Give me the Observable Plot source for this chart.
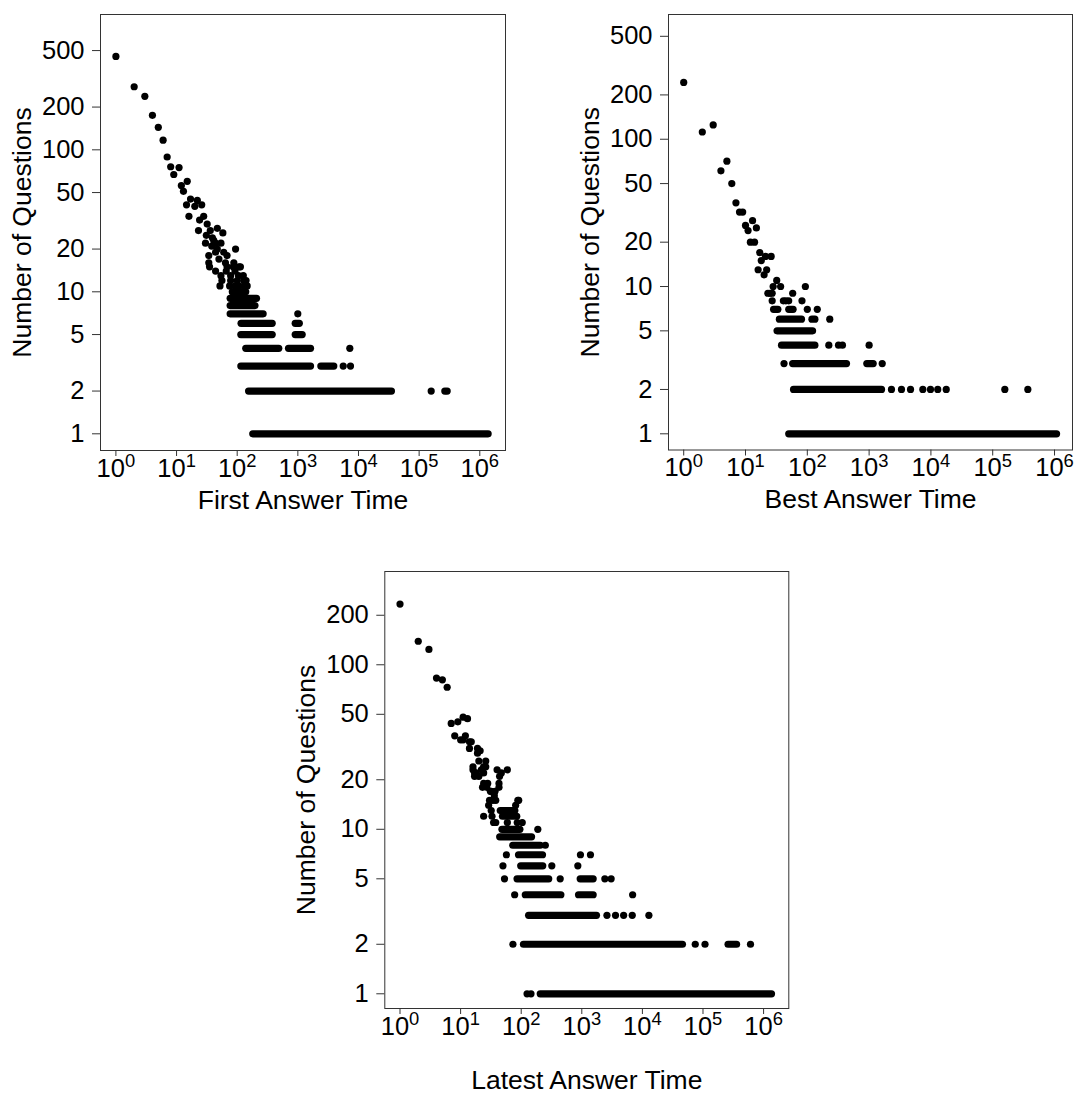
<!DOCTYPE html>
<html><head><meta charset="utf-8">
<script src="https://cdn.jsdelivr.net/npm/d3@7"></script>
<script src="https://cdn.jsdelivr.net/npm/@observablehq/plot@0.6"></script>
<style>
html,body{margin:0;padding:0;background:#fff;}
#chart{position:relative;width:1076px;height:1094px;font-family:"Liberation Sans",Arial,sans-serif;}
#chart svg{position:absolute;overflow:visible;}
</style></head><body><div id="chart"></div>
<script>
// ---------- data (x = answer time, y = number of questions) ----------
const yTicksTop = [1, 2, 5, 10, 20, 50, 100, 200, 500];
const yTicksBottom = [1, 2, 5, 10, 20, 50, 100, 200];
const xTickExponents = [0, 1, 2, 3, 4, 5, 6];
const yLabel = "Number of Questions";
const xLabels = ["First Answer Time", "Best Answer Time", "Latest Answer Time"];

// isolated points [x, y]
const firstPoints = [[1,455],[2,278],[3,238],[4,175],[5,144],[6,117],[7,89],[8,76],[9,67],[11,75],[12,56],[13,51],[15,60],[17,45],[14.6,41],[22,44],[20,40],[26,41],[16,34],[24,32],[28,34],[32,30],[23,27],[36,27],[47,28],[58,26],[31,25],[39,24],[41,23],[30,22],[44,22],[54,22],[38,21],[47,20],[44,19],[60,19],[94,20],[34,18],[50,17],[68,18],[64,16],[34,16],[88,16],[35,15],[68,15],[107,15],[113,15],[44,14],[66,14],[86,15],[92,14],[54,13],[78,13],[105,13],[126,13],[56,12],[78,12],[100,12],[128,12],[140,12],[52,11],[75,11],[92,11],[106,11],[130,11],[146,11],[83,10],[121,10],[998,7],[7190,4],[5600,3],[7380,3],[158000,2],[265000,2],[290000,2]];
// dense runs of points [xFrom, xTo, y]
const firstRuns = [[86,141,10],[78,212,9],[78,200,8],[78,273,7],[118,385,6],[922,1078,6],[117,385,5],[922,1202,5],[141,494,4],[715,1650,4],[117,1650,3],[2440,3990,3],[157,35600,2],[184,1400000,1]];

const secondPoints = [[1,243],[2,112],[3,125],[4,61],[5,71],[6,50],[7,37],[8,32],[9,32],[10,26],[13,28],[11,24],[15,25],[12,20],[14,20],[17,17],[21,16],[26,16],[18,15],[16,13],[22,13],[20,12],[32,11],[28,10],[37,10],[93,10],[23,9],[25,9],[27,9],[58,9],[27,8],[41,8],[45,8],[50,8],[82,8],[100,7],[145,7],[231,6],[223,4],[320,4],[370,4],[1000,4],[42,3],[1630,3],[2300,2],[3340,2],[4680,2],[7400,2],[9840,2],[12900,2],[17700,2],[157000,2],[370000,2]];
const secondRuns = [[29,34,7],[51,60,7],[36,82,6],[121,135,6],[33,124,5],[39,135,4],[59,439,3],[935,1186,3],[61,1618,2],[51,1100000,1]];

const thirdPoints = [[1,234],[2,139],[3,124],[4,83],[5,81],[6,73],[7,44],[9,45],[11,48],[13,47],[8,37],[10,35],[12,37],[11,35],[14,34],[15,34],[14,31],[19,31],[21,30],[19,29],[20,26],[26,26],[26,24],[16,24],[24,24],[17,22],[18,22],[16,23],[22,23],[23,23],[24,22],[17,21],[20,21],[40,23],[47,22],[59,23],[44,21],[24,19],[28,19],[43,19],[23,18],[27,18],[43,18],[32,17],[37,17],[31,17],[36,16],[30,15],[34,15],[38,15],[88,15],[91,15],[81,14],[29,14],[32,13],[24,12],[33,12],[35,11],[38,11],[59,11],[86,11],[104,11],[188,10],[250,8],[57,7],[950,7],[1390,7],[50,6],[320,6],[860,6],[53,5],[440,5],[2400,5],[3050,5],[78,4],[6900,4],[2600,3],[3600,3],[4900,3],[6800,3],[12800,3],[73,2],[74500,2],[108000,2],[608000,2],[125,1],[145,1]];
const thirdRuns = [[46,80,13],[50,86,12],[49,97,10],[45,151,9],[74,210,8],[92,229,7],[100,231,6],[87,290,5],[959,1570,5],[119,460,4],[900,1570,4],[135,1780,3],[111,46700,2],[264000,365000,2],[210,1377000,1]];

// ---------- drawing ----------
const FONT = '"Liberation Sans", Arial, Helvetica, sans-serif';
const FS = 25.5;     // tick labels
const TFS = 26.5;    // axis titles
const xTicks = xTickExponents.map(e => Math.pow(10, e));
const root = document.getElementById("chart");

function panel(o) {
  const svg = Plot.plot({
    width: o.width, height: o.height,
    marginLeft: o.mL, marginRight: o.mR, marginTop: o.mT, marginBottom: o.mB,
    style: {fontFamily: FONT, fontSize: FS + "px", color: "#000", background: "transparent", overflow: "visible"},
    x: {type: "log", domain: o.xDomain.map(v => Math.pow(10, v))},
    y: {type: "log", domain: o.yDomain.map(v => Math.pow(10, v))},
    marks: [
      Plot.frame({stroke: "#333", strokeWidth: 1}),
      // y ticks (marks only) + labels as text so every label shows
      Plot.axisY({ticks: o.yTicks, tickFormat: () => "", tickSize: 8, stroke: "#333", label: null}),
      Plot.text(o.yTicks, {y: d => d, text: d => String(d), frameAnchor: "left", dx: -16,
        textAnchor: "end", lineAnchor: "middle", fontSize: FS, fill: "#000", fontFamily: FONT}),
      Plot.axisX({ticks: xTicks, tickFormat: d => String(Math.round(Math.log10(d))), tickSize: 6, tickPadding: 2, stroke: "#333", label: null, fontSize: FS}),
      Plot.ruleY(o.runs, {y: d => d[2], x1: d => d[0], x2: d => d[1], stroke: "#000", strokeWidth: 7.2, strokeLinecap: "round"}),
      Plot.dot(o.points, {x: d => d[0], y: d => d[1], r: 3.6, fill: "#000", stroke: "none"}),
      Plot.text([o.xLabel], {frameAnchor: "bottom", dy: o.xLabelDy, textAnchor: "middle", lineAnchor: "middle",
        fontSize: TFS, fill: "#000", fontFamily: FONT}),
      Plot.text([yLabel], {frameAnchor: "left", dx: -78, rotate: -90, textAnchor: "middle", lineAnchor: "middle",
        fontSize: TFS, fill: "#000", fontFamily: FONT})
    ]
  });
  svg.style.left = o.left + "px";
  svg.style.top = o.top + "px";
  // turn exponent tick labels into 10^k with a raised superscript
  d3.select(svg).selectAll('[aria-label="x-axis tick label"] text').each(function() {
    const e = this.textContent;
    const t = d3.select(this);
    t.text(null);
    t.append("tspan").text("10");
    t.append("tspan").attr("dy", "-0.5em").attr("font-size", "0.72em").text(e);
  });
  root.appendChild(svg);
}

panel({points: firstPoints, runs: firstRuns, xLabel: xLabels[0], yTicks: yTicksTop,
  xDomain: [-0.254, 6.424], yDomain: [-0.1176, 2.953],
  left: 0, top: 0, width: 538, height: 526, mL: 100, mR: 33, mT: 14, mB: 76, xLabelDy: 50});
panel({points: secondPoints, runs: secondRuns, xLabel: xLabels[1], yTicks: yTicksTop,
  xDomain: [-0.246, 6.291], yDomain: [-0.11, 2.847],
  left: 538, top: 0, width: 538, height: 526, mL: 130, mR: 4, mT: 14, mB: 76.5, xLabelDy: 50});
panel({points: thirdPoints, runs: thirdRuns, xLabel: xLabels[2], yTicks: yTicksBottom,
  xDomain: [-0.251, 6.416], yDomain: [-0.0894, 2.567],
  left: 269, top: 557, width: 538, height: 531, mL: 115.3, mR: 18.7, mT: 14, mB: 80, xLabelDy: 72});
</script></body></html>
